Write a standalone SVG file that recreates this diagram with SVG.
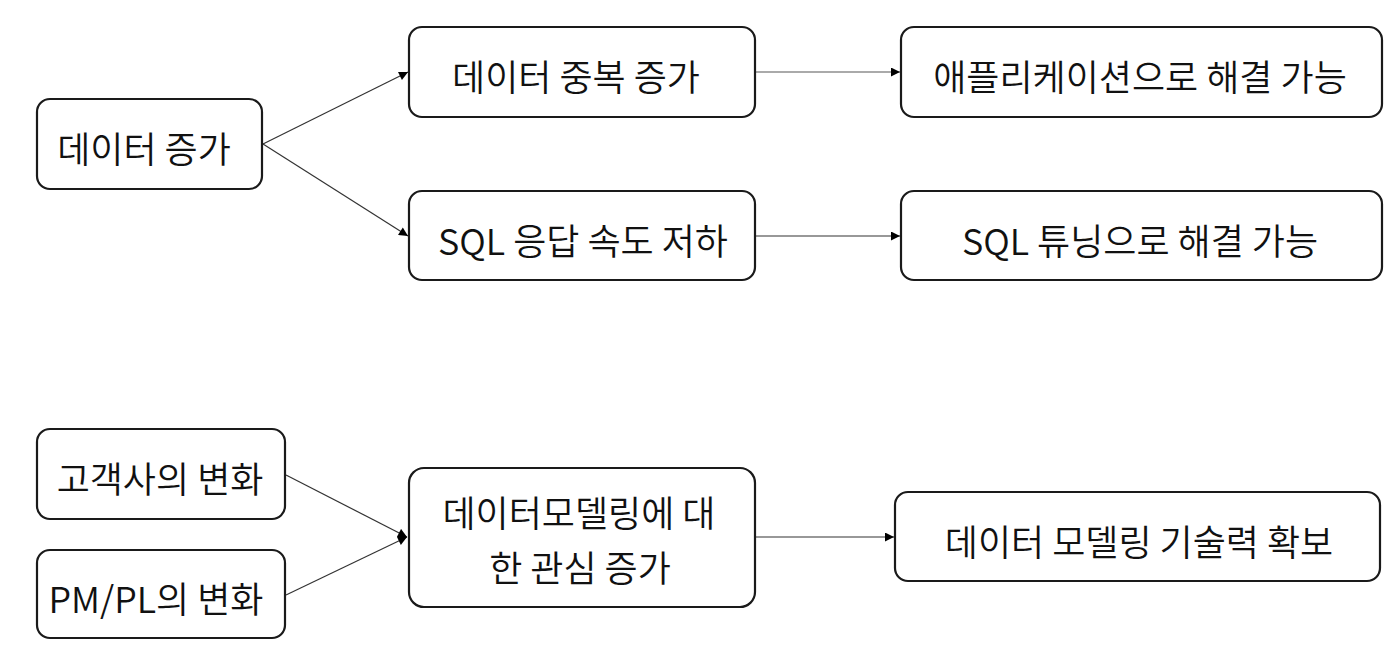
<svg xmlns="http://www.w3.org/2000/svg" width="1392" height="664" viewBox="0 0 1392 664">
<style>
.box{fill:#fff;stroke:#1a1a1a;stroke-width:2.2}
.t{font-family:"Noto Sans CJK KR","Noto Sans",sans-serif;font-size:36px;font-weight:350;fill:#111;text-anchor:middle}
.c{fill:none;stroke:#333;stroke-width:1.2}
.g{stroke:#aaa;stroke-width:2}
</style>
<defs>
<marker id="ah" viewBox="0 0 10 10" refX="10" refY="5" markerWidth="10" markerHeight="9" markerUnits="userSpaceOnUse" orient="auto">
<path d="M0,0 L10,5 L0,10 Z" fill="#000"/>
</marker>
</defs>
<rect width="1392" height="664" fill="#fff"/>
<g id="connectors">
<line class="c" x1="263" y1="144" x2="408" y2="72" marker-end="url(#ah)"/>
<line class="c" x1="263" y1="144" x2="408" y2="236" marker-end="url(#ah)"/>
<line class="c g" x1="756" y1="72" x2="900" y2="72" marker-end="url(#ah)"/>
<line class="c" x1="756" y1="236" x2="900" y2="236" marker-end="url(#ah)"/>
<line class="c" x1="286" y1="475" x2="407" y2="537" marker-end="url(#ah)"/>
<line class="c" x1="286" y1="595" x2="407" y2="537" marker-end="url(#ah)"/>
<line class="c" x1="756" y1="537" x2="894" y2="537" marker-end="url(#ah)"/>
</g>
<g id="n1"><rect class="box" x="37" y="99" width="225" height="90" rx="13"/><text class="t" x="144" y="163">데이터 증가</text></g>
<g id="n2"><rect class="box" x="409" y="27" width="346" height="90" rx="13"/><text class="t" x="576" y="91">데이터 중복 증가</text></g>
<g id="n3"><rect class="box" x="901" y="27" width="481" height="90" rx="13"/><text class="t" x="1140" y="91">애플리케이션으로 해결 가능</text></g>
<g id="n4"><rect class="box" x="409" y="191" width="346" height="89" rx="13"/><text class="t" x="583" y="255">SQL 응답 속도 저하</text></g>
<g id="n5"><rect class="box" x="901" y="191" width="481" height="89" rx="13"/><text class="t" x="1140" y="255">SQL 튜닝으로 해결 가능</text></g>
<g id="n6"><rect class="box" x="37" y="429" width="248" height="90" rx="13"/><text class="t" x="160" y="493">고객사의 변화</text></g>
<g id="n7"><rect class="box" x="37" y="550" width="248" height="88" rx="13"/><text class="t" x="156" y="613">PM/PL의 변화</text></g>
<g id="n8"><rect class="box" x="409" y="468" width="346" height="139" rx="15"/><text class="t" x="579" y="527">데이터모델링에 대</text><text class="t" x="580" y="582">한 관심 증가</text></g>
<g id="n9"><rect class="box" x="895" y="492" width="485" height="89" rx="13"/><text class="t" x="1139" y="556">데이터 모델링 기술력 확보</text></g>
</svg>
